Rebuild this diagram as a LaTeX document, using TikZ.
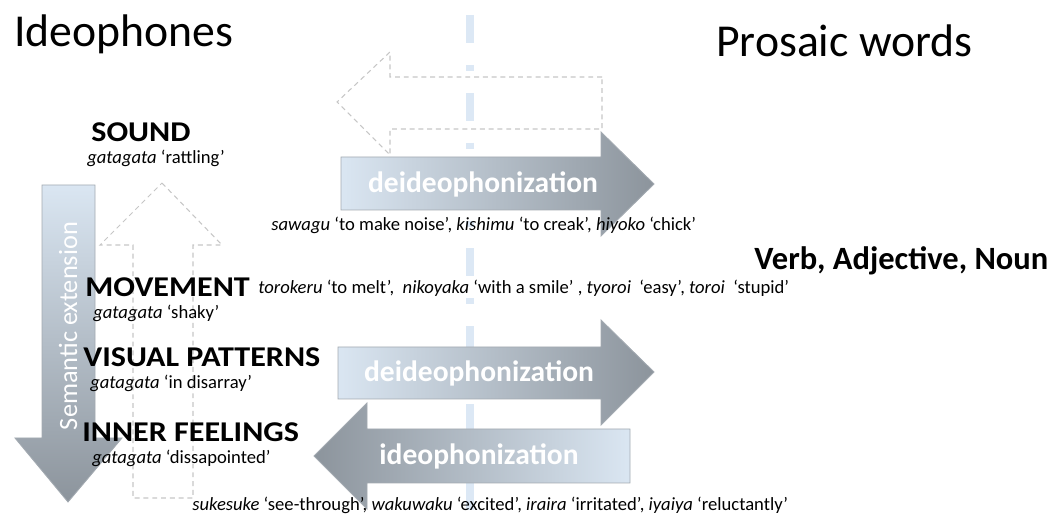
\documentclass[tikz,border=0pt]{standalone}
\usepackage{fontspec}
\setmainfont{Carlito}
\newfontfamily\widefont[FakeStretch=1.12]{Carlito}

\definecolor{paleblue}{HTML}{DAE6F2}
\definecolor{steelgray}{HTML}{8C949C}
\definecolor{arrowedge}{HTML}{A3AAB1}
\definecolor{divider}{HTML}{DCE8F5}
\definecolor{ghost}{HTML}{C6C6C6}

\tikzset{
  flow/.style={draw=arrowedge, line width=0.5pt},
  ghostarrow/.style={draw=ghost, line width=0.6pt, dash pattern=on 2.8pt off 2.2pt},
  heading/.style={anchor=base west, inner sep=0pt, font=\fontsize{26}{30}\selectfont},
  category/.style={anchor=base west, inner sep=0pt, font=\widefont\fontsize{16.3}{19}\selectfont\bfseries},
  gloss/.style={anchor=base west, inner sep=0pt, font=\fontsize{10.6}{12}\selectfont},
  process/.style={inner sep=0pt, text=white, font=\fontsize{16.8}{20}\selectfont\bfseries}
}

\begin{document}
\begin{tikzpicture}[x=0.02cm, y=-0.02cm]
\useasboundingbox (0,0) rectangle (1056,520);

% dividing line
\draw[divider, line width=4.5pt, dash pattern=on 15.9pt off 12.5pt on 3.4pt off 12.5pt] (470,15) -- (470,520);

% ghost arrows
\draw[ghostarrow] (602,77) -- (390,77) -- (390,52) -- (337,102) -- (390,155) -- (390,129) -- (602,129) -- cycle;
\draw[ghostarrow] (162,183) -- (222,245) -- (193,245) -- (193,498) -- (133,498) -- (133,245) -- (100,245) -- cycle;

% process arrows
\path[flow, left color=paleblue, right color=steelgray] (341,157) -- (601,157) -- (601,132) -- (654,184) -- (601,236) -- (601,210) -- (341,210) -- cycle;
\path[flow, left color=paleblue, right color=steelgray] (338,347) -- (601,347) -- (601,320) -- (654,372) -- (601,425) -- (601,399) -- (338,399) -- cycle;
\path[flow, left color=steelgray, right color=paleblue] (630,429) -- (367,429) -- (367,403) -- (314,456) -- (367,509) -- (367,483) -- (630,483) -- cycle;
\path[flow, top color=paleblue, bottom color=steelgray] (42,185) -- (95,185) -- (95,438) -- (122,438) -- (68,502) -- (15,438) -- (42,438) -- cycle;

\node[process] (deideo1) at (483,184) {deideophonization};
\node[process] (deideo2) at (479,373) {deideophonization};
\node[process] (ideo) at (479,456) {ideophonization};
\node[rotate=90, inner sep=0pt, text=white, font=\fontsize{15}{18}\selectfont] (semext) at (68,326) {Semantic extension};

% headings
\node[heading] (ideophones) at (14,47) {Ideophones};
\node[heading] (prosaic) at (716,57) {Prosaic words};
\node[heading, font=\fontsize{18.5}{22}\selectfont\bfseries] (classes) at (754,270) {Verb, Adjective, Noun};

% categories
\node[category] (sound) at (91,142) {SOUND};
\node[gloss] (soundex) at (87,164) {\textit{gatagata} `rattling'};
\node[category] (movement) at (85,297) {MOVEMENT};
\node[gloss] (movementex) at (93,319) {\textit{gatagata} `shaky'};
\node[category] (visual) at (83,367) {VISUAL PATTERNS};
\node[gloss] (visualex) at (90,389) {\textit{gatagata} `in disarray'};
\node[category] (inner) at (82,442) {INNER FEELINGS};
\node[gloss] (innerex) at (92,464) {\textit{gatagata} `dissapointed'};

% examples
\node[gloss] (soundwords) at (271,231) {\textit{sawagu} `to make noise', \textit{kishimu} `to creak', \textit{hiyoko} `chick'};
\node[gloss] (movewords) at (258,294) {\textit{torokeru} `to melt',~ \textit{nikoyaka} `with a smile' , \textit{tyoroi} ~`easy', \textit{toroi} ~`stupid'};
\node[gloss] (feelwords) at (192,511) {\textit{sukesuke} `see-through', \textit{wakuwaku} `excited', \textit{iraira} `irritated', \textit{iyaiya} `reluctantly'};

\end{tikzpicture}
\end{document}
